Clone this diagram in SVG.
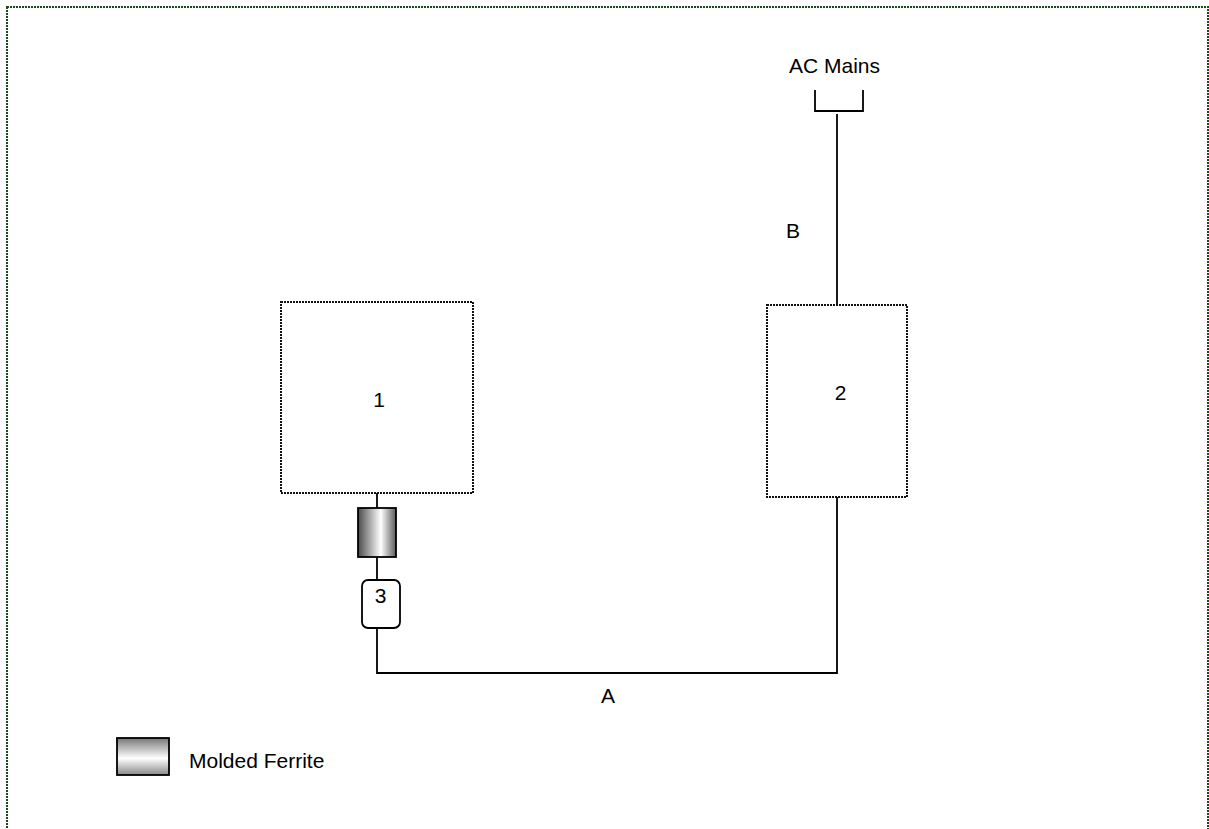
<svg xmlns="http://www.w3.org/2000/svg" width="1209" height="829" viewBox="0 0 1209 829">
<style>
.frame{fill:none;stroke:#1a4a1a;stroke-width:2;stroke-dasharray:2 1}
.box{fill:#fff;stroke:#111;stroke-width:2;stroke-dasharray:2 1}
.wire{fill:none;stroke:#000;stroke-width:1.8}
.lbl{font-family:"Liberation Sans",Arial,sans-serif;font-size:21px;fill:#000}
</style>
<defs>
<linearGradient id="gH" x1="0" y1="0" x2="1" y2="0">
<stop offset="0" stop-color="#4a4a4a"/>
<stop offset="0.6" stop-color="#fff"/>
<stop offset="1" stop-color="#5a5a5a"/>
</linearGradient>
<linearGradient id="gV" x1="0" y1="0" x2="0" y2="1">
<stop offset="0" stop-color="#777"/>
<stop offset="0.55" stop-color="#fff"/>
<stop offset="1" stop-color="#888"/>
</linearGradient>
</defs>
<rect x="0" y="0" width="1209" height="829" fill="#fff"/>
<rect class="frame" x="7" y="7" width="1201" height="840"/>
<g id="connectors">
<polyline class="wire" points="815,90 815,111 863,111 863,90"/>
<line class="wire" x1="837" y1="114" x2="837" y2="305"/>
<line class="wire" x1="377" y1="493" x2="377" y2="508"/>
<line class="wire" x1="377" y1="557" x2="377" y2="580"/>
<polyline class="wire" points="377,628 377,673 837,673 837,497"/>
</g>
<g id="ac-mains"><text class="lbl" x="834.5" y="73" text-anchor="middle">AC Mains</text></g>
<g id="label-B"><text class="lbl" x="793" y="238" text-anchor="middle">B</text></g>
<g id="label-A"><text class="lbl" x="608" y="703" text-anchor="middle">A</text></g>
<g id="node1">
<rect class="box" x="281" y="302" width="192" height="191"/>
<text class="lbl" x="379" y="407" text-anchor="middle">1</text>
</g>
<g id="node2">
<rect class="box" x="767" y="305" width="140" height="192"/>
<text class="lbl" x="840.5" y="400" text-anchor="middle">2</text>
</g>
<g id="ferrite">
<rect x="358" y="508" width="38" height="49" fill="url(#gH)" stroke="#000" stroke-width="1.8"/>
</g>
<g id="node3">
<rect x="362" y="580" width="38" height="48" rx="6" fill="#fff" stroke="#000" stroke-width="1.8"/>
<text class="lbl" x="380.5" y="603" text-anchor="middle">3</text>
</g>
<g id="legend">
<rect x="117" y="738" width="52" height="37" fill="url(#gV)" stroke="#000" stroke-width="1.8"/>
<text class="lbl" x="189" y="768">Molded Ferrite</text>
</g>
</svg>
